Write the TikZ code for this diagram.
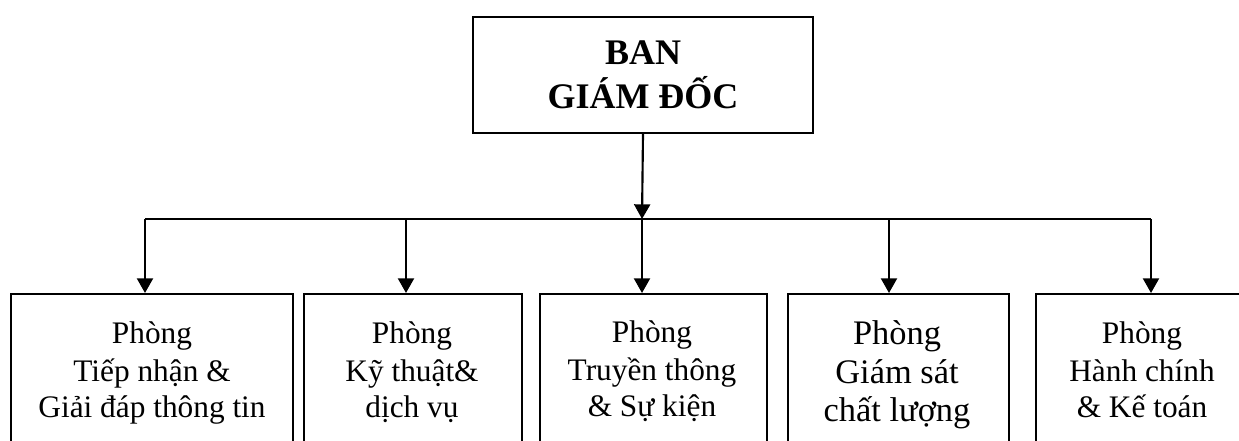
\documentclass[tikz,border=0pt]{standalone}
\usepackage{fontspec}
\setmainfont{Liberation Serif}
\usetikzlibrary{arrows.meta}
\tikzset{
  boss/.style={draw, line width=1.5pt, inner sep=0pt, anchor=north west, align=center,
    font=\fontsize{27}{33}\selectfont\bfseries},
  dept/.style={draw, line width=1.3pt, inner sep=0pt, anchor=north west},
  depttext/.style={inner sep=0pt, align=center, anchor=base, font=\fontsize{23.5}{27.75}\selectfont},
  conn/.style={line width=1.5pt},
  arr/.style={line width=1.6pt, -{Triangle[width=12pt,length=11pt]}},
}
\begin{document}
\begin{tikzpicture}[x=0.75pt,y=-0.75pt]
\useasboundingbox (0,0) rectangle (1239,441);
\clip (0,0) rectangle (1239,441);
% top box
\node[boss, minimum width=255pt, minimum height=87pt] (bgd) at (472,16) {BAN\\GIÁM ĐỐC};
% department boxes
\node[dept, minimum width=211.5pt, minimum height=130pt] (d1) at (10,293) {};
\node[dept, minimum width=163.5pt, minimum height=130pt] (d2) at (303,293) {};
\node[dept, minimum width=170.25pt, minimum height=130pt] (d3) at (539,293) {};
\node[dept, minimum width=165.75pt, minimum height=130pt] (d4) at (787,293) {};
\node[dept, minimum width=161.25pt, minimum height=130pt] (d5) at (1035,293) {};
% texts (anchored at the baseline of the last line)
\node[depttext] (t1) at (152,418) {Phòng\\Tiếp nhận \&\\Giải đáp thông tin};
\node[depttext] (t2) at (412,418) {Phòng\\Kỹ thuật\&\\dịch vụ};
\node[depttext] (t3) at (652,417) {Phòng\\Truyền thông\\\& Sự kiện};
\node[depttext, font=\fontsize{25.8}{28.9}\selectfont] (t4) at (897,422) {Phòng\\Giám sát\\chất lượng};
\node[depttext] (t5) at (1142,418) {Phòng\\Hành chính\\\& Kế toán};
% connectors
\coordinate (bus) at (642,219);
\coordinate (busL) at (145,219);
\coordinate (bus2) at (406,219);
\coordinate (bus4) at (889,219);
\coordinate (busR) at (1151,219);
\draw[arr] (bgd.south) -- (bus);
\draw[conn] (busL) -- (busR);
\draw[arr] (busL) -- (busL |- d1.north);
\draw[arr] (bus2) -- (bus2 |- d2.north);
\draw[arr] (bus) -- (bus |- d3.north);
\draw[arr] (bus4) -- (bus4 |- d4.north);
\draw[arr] (busR) -- (busR |- d5.north);
\end{tikzpicture}
\end{document}
